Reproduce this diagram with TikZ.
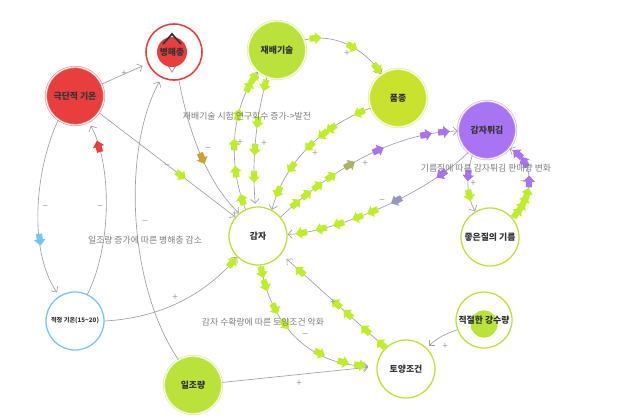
\documentclass[tikz,border=0pt]{standalone}
\usepackage{fontspec}
\setmainfont{Noto Sans CJK KR}
\usepackage{xcolor}
\usepackage{tikz}
\usetikzlibrary{arrows.meta, decorations.markings}

\definecolor{hotred}{RGB}{232,62,62}
\definecolor{leaf}{RGB}{186,226,58}
\definecolor{leafb}{RGB}{200,226,46}
\definecolor{grape}{RGB}{168,116,244}
\definecolor{sky}{RGB}{120,196,240}
\definecolor{linkgray}{RGB}{155,155,170}
\definecolor{capgray}{RGB}{125,125,125}
\definecolor{flowgreen}{RGB}{190,238,40}
\definecolor{flowolive}{RGB}{168,178,96}
\definecolor{flowgold}{RGB}{205,160,50}
\definecolor{flowslate}{RGB}{150,150,190}

% 흐름 표시
\newcommand{\flowtip}[1]{\fill[#1] (-4pt,-2.2pt) -- (0pt,-2.2pt) -- (0pt,-4.2pt) -- (4.4pt,0pt) -- (0pt,4.2pt) -- (0pt,2.2pt) -- (-4pt,2.2pt) -- cycle;}

\begin{document}
\begin{tikzpicture}[x=0.025cm, y=-0.025cm, >={Straight Barb[length=3pt,width=6pt]},
    bubble/.style={circle, inner sep=0pt, minimum size=1.45cm, text=black!80,
        font=\fontsize{6.3}{7}\selectfont\bfseries},
    full/.style={bubble, fill=#1, draw=#1!55, line width=0.5pt, double=white, double distance=0.6pt},
    ring/.style={bubble, fill=white, draw=#1, line width=0.9pt},
    link/.style={draw=linkgray, line width=0.45pt, ->},
    sign/.style={text=linkgray, font=\fontsize{7}{7}\selectfont},
    caption/.style={text=capgray, font=\fontsize{6.3}{7}\selectfont},
    gflow/.style={postaction={decorate, decoration={markings, mark=at position #1 with {\flowtip{flowgreen}}}}},
    pflow/.style={postaction={decorate, decoration={markings, mark=at position #1 with {\flowtip{grape}}}}},
    cflow/.style 2 args={postaction={decorate, decoration={markings, mark=at position #2 with {\flowtip{#1}}}}}]
    \useasboundingbox (0,0) rectangle (624,417);

    % 노드
    \node[full=hotred] (extreme) at (75,96) {극단적 기온};
    \node[ring=hotred, line width=1.1pt, minimum size=1.4cm] (pest) at (174,52) {};
    \draw[linkgray, line width=0.6pt] (172,33) -- (185,52) -- (172,72) -- (159,52) -- cycle;
    \node[bubble, fill=hotred, minimum size=0.75cm] (pestcore) at (172,52) {병해충};
    \draw[black!80, line width=1.2pt] (163,44) -- (172,34) -- (181,44);
    \node[full=leaf] (tech) at (277,50) {재배기술};
    \node[full=leafb] (variety) at (398,98) {품종};
    \node[full=grape] (fries) at (487,130) {감자튀김};
    \node[ring=leaf] (gamja) at (258,236) {감자};
    \node[ring=leaf] (oil) at (490,237) {좋은질의 기름};
    \node[ring=sky, font=\fontsize{4.4}{5}\selectfont\bfseries] (temp) at (75,321) {적정 기온(15\textasciitilde20)};
    \node[full=leaf] (sun) at (193,385) {일조량};
    \node[ring=leaf] (soil) at (406,369) {토양조건};
    \node[ring=leaf, minimum size=1.4cm] (rain) at (484,320) {};
    \node[circle, fill=leaf, minimum size=0.68cm] (raincore) at (484,324) {};
    \node[text=black!80, font=\fontsize{6.3}{7}\selectfont\bfseries] (raintext) at (484,320) {적절한 강수량};

    % 연결선
    \draw[link, shorten >=4pt] (extreme) -- (pest);
    \draw[link, gflow=.6] (extreme.-35) -- (gamja.140);
    \draw[link, cflow={flowgold}{.55}] (pest.-80) .. controls (190,140) and (210,185) .. (gamja.130);
    \draw[link, shorten >=3pt, cflow={sky}{.67}] (extreme.235) .. controls (35,170) and (28,250) .. (temp.122);
    \draw[link, shorten >=3pt, cflow={hotred}{.85}] (temp.65) .. controls (112,245) and (112,165) .. (extreme.-62);
    \draw[link, gflow=.95] (temp.east) .. controls (160,318) and (205,295) .. (gamja.-135);
    \draw[link, shorten >=3pt] (sun.120) .. controls (128,285) and (122,150) .. (pest.-116);
    \draw[link, shorten >=6pt] (sun.5) -- (soil.175);
    \draw[link, shorten >=6pt, gflow/.list={.04,.12,.27,.38,.65,.8,.9}] (gamja.-85) .. controls (270,320) and (305,365) .. (soil.175);
    \draw[link, shorten >=5pt, gflow/.list={.04,.19,.36,.47,.82}] (soil.134) -- (gamja.-38);
    \draw[link, shorten >=2pt] (rain.200) .. controls (445,334) and (437,338) .. (soil.45);
    \draw[link, gflow/.list={.07,.27,.46,.67,.88,.95}] (gamja.115) .. controls (228,165) and (230,110) .. (tech.-131);
    \draw[link, shorten >=2pt, gflow/.list={.06,.35,.56,.77}] (tech.-110) .. controls (255,120) and (252,165) .. (gamja.95);
    \draw[link, gflow/.list={.12,.55,.92}] (tech.20) .. controls (330,33) and (362,45) .. (variety.125);
    \draw[link, gflow/.list={.08,.3,.37,.49,.68,.87}] (variety.200) .. controls (325,125) and (285,160) .. (gamja.62);
    \draw[link, gflow/.list={.1,.17,.24,.32}, cflow={flowolive}{.43}, pflow/.list={.59,.84,.93}] (gamja.40) .. controls (320,180) and (385,133) .. (fries.182);
    \draw[link, pflow=.17, cflow={flowslate}{.43}, gflow/.list={.56,.64,.74,.83,.93}] (fries.-130) .. controls (425,195) and (335,232) .. (gamja.3);
    \draw[link, pflow=.35, gflow=.7] (fries.-120) .. controls (466,175) and (466,195) .. (oil.120);
    \draw[link, gflow/.list={.08,.16,.25,.35}, pflow/.list={.5,.75,.88}] (oil.40) .. controls (535,195) and (535,160) .. (fries.-40);

    % 부호
    \foreach \x/\y/\s [count=\i] in {124/73/+, 240/142/+, 264/143/+, 347/53/+, 315/153/+,
        365/163/+, 473/183/+, 175/297/+, 299/383/+, 333/302/+, 445/346/+,
        167/167/−, 208/150/−, 45/208/−, 100/208/−, 145/223/−, 305/336/−, 382/202/−, 523/183/−}
        \node[sign] (sgn\i) at (\x,\y) {\s};

    % 설명
    \node[caption] (cap1) at (247,116) {재배기술 시험 연구회수 증가->발전};
    \node[caption] (cap2) at (486,168) {기름질에 따른 감자튀김 판매량 변화};
    \node[caption] (cap3) at (145,240) {일조량 증가에 따른 병해충 감소};
    \node[caption] (cap4) at (263,322) {감자 수확량에 따른 토양조건 악화};
\end{tikzpicture}
\end{document}
